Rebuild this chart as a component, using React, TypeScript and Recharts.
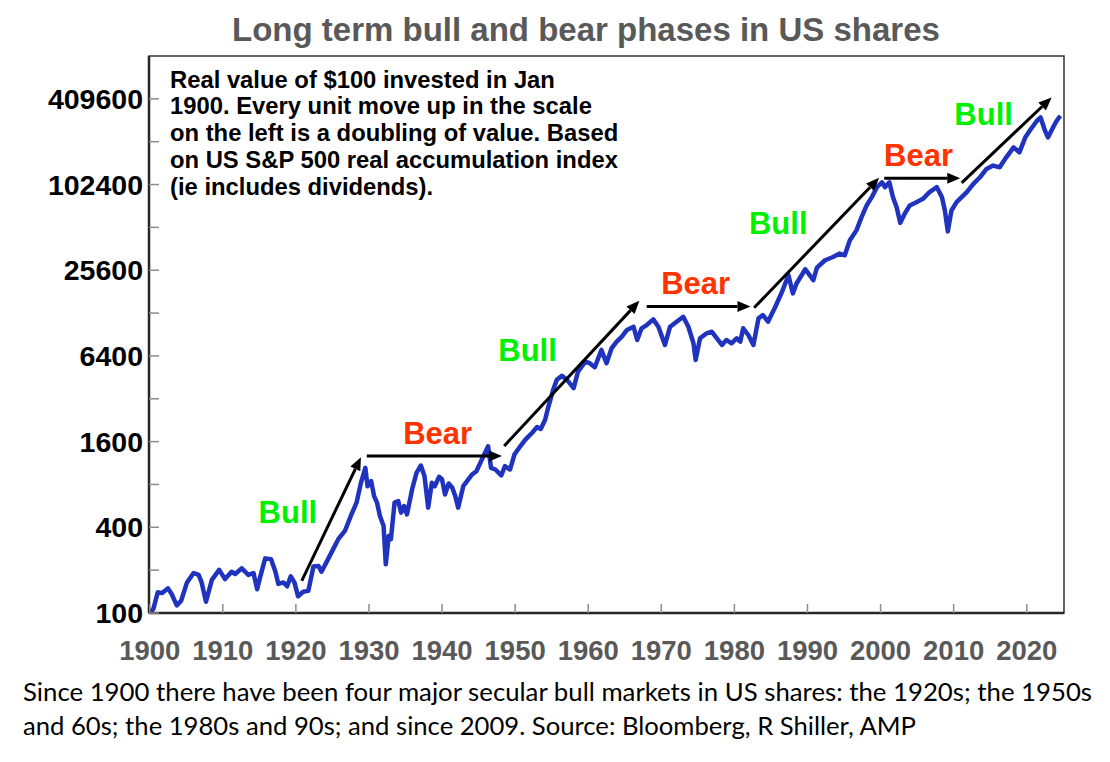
import React from "react";
import { LineChart, Line, XAxis, YAxis, ReferenceLine, ReferenceDot, ReferenceArea } from "recharts";

// Real value of $100 invested Jan 1900 (S&P 500 real accumulation index)
const years = [
  1900.0, 1900.5, 1901.1, 1901.7, 1902.5, 1903.0, 1903.7, 1904.3, 1905.1, 1906.0,
  1906.7, 1907.1, 1907.7, 1908.5, 1909.5, 1910.3, 1911.2, 1911.7, 1912.6, 1913.5,
  1914.2, 1914.7, 1915.1, 1915.8, 1916.6, 1917.2, 1917.6, 1918.3, 1918.8, 1919.3,
  1919.8, 1920.3, 1921.0, 1921.7, 1922.4, 1923.1, 1923.5, 1924.4, 1925.1, 1925.8,
  1926.7, 1927.6, 1928.3, 1928.9, 1929.5, 1929.8, 1930.3, 1930.7, 1931.1, 1931.5,
  1932.0, 1932.3, 1932.7, 1933.0, 1933.5, 1934.0, 1934.4, 1934.8, 1935.2, 1935.9,
  1936.5, 1937.1, 1937.6, 1938.1, 1938.6, 1939.0, 1939.6, 1940.0, 1940.4, 1940.9,
  1941.4, 1941.8, 1942.2, 1942.9, 1943.6, 1944.1, 1944.7, 1945.4, 1946.3, 1946.7,
  1947.3, 1948.1, 1948.6, 1949.3, 1949.9, 1950.7, 1951.4, 1952.3, 1953.0, 1953.5,
  1954.1, 1954.5, 1955.2, 1955.7, 1956.4, 1957.1, 1958.0, 1958.6, 1959.6, 1960.2,
  1960.9, 1961.8, 1962.5, 1963.2, 1963.9, 1964.6, 1965.3, 1966.2, 1966.7, 1967.3,
  1968.0, 1968.9, 1969.6, 1970.5, 1971.2, 1972.1, 1973.0, 1973.7, 1974.4, 1974.7,
  1975.3, 1976.2, 1976.9, 1977.6, 1978.3, 1978.9, 1979.6, 1980.3, 1980.8, 1981.2,
  1981.9, 1982.6, 1983.3, 1983.9, 1984.6, 1985.6, 1986.5, 1987.4, 1988.0, 1988.5,
  1989.7, 1990.8, 1991.3, 1992.4, 1993.5, 1994.4, 1995.1, 1995.8, 1996.7, 1997.4,
  1998.1, 1998.8, 1999.5, 2000.2, 2000.6, 2001.2, 2001.7, 2002.2, 2002.7, 2003.3,
  2004.0, 2004.9, 2005.8, 2006.7, 2007.7, 2008.4, 2008.8, 2009.2, 2009.7, 2010.4,
  2011.1, 2011.8, 2012.7, 2013.6, 2014.5, 2015.4, 2016.3, 2017.2, 2018.2, 2019.0,
  2019.8, 2020.4, 2021.4, 2021.9, 2022.5, 2022.9, 2023.6, 2024.1, 2024.6,
];

const values = [
  100, 107, 140, 138, 149, 136, 113, 122, 164, 191,
  185, 164, 120, 171, 201, 173, 195, 188, 206, 185,
  191, 147, 178, 242, 239, 195, 160, 164, 154, 181,
  164, 131, 141, 143, 212, 214, 195, 239, 281, 330,
  377, 493, 596, 822, 1047, 778, 844, 663, 596, 480,
  408, 220, 348, 330, 596, 611, 507, 564, 493, 738,
  966, 1087, 914, 550, 822, 778, 906, 867, 681, 813,
  758, 663, 550, 778, 867, 940, 991, 1183, 1483, 1047,
  1019, 925, 1075, 1019, 1298, 1483, 1653, 1840, 2028, 1963,
  2281, 2755, 3699, 4347, 4636, 4347, 3803, 4969, 5837, 5689,
  5333, 7052, 5689, 7246, 8063, 8738, 9736, 10264, 8283, 10004,
  10550, 11560, 10264, 7640, 10264, 11130, 12060, 10264, 7852, 6000,
  8515, 9228, 9470, 8515, 7640, 8283, 7852, 8515, 8063, 10004,
  8978, 7640, 11750, 12390, 11130, 14170, 17950, 23620, 17590, 20670,
  26010, 21790, 26660, 30090, 31720, 33500, 32610, 41540, 48780, 60480,
  73020, 83480, 98050, 106230, 98050, 106230, 83480, 71020, 55070, 63870,
  73020, 76980, 81310, 90460, 98050, 83480, 67340, 48000, 67340, 76980,
  83480, 90460, 103600, 115200, 131900, 139100, 135300, 159000, 186800, 172400,
  219500, 244600, 287300, 303000, 244600, 219500, 258000, 287300, 311500,
];

const yearTicks = [1900, 1910, 1920, 1930, 1940, 1950, 1960, 1970, 1980, 1990, 2000, 2010, 2020];
// every doubling gets a tick, every second one a label
const valueTicks = [100, 200, 400, 800, 1600, 3200, 6400, 12800, 25600, 51200, 102400, 204800, 409600];
const labelledTicks = [100, 400, 1600, 6400, 25600, 102400, 409600];

// phase arrows: [fromYear, fromValue, toYear, toValue]
const phaseArrows = [
  [1920.8, 168, 1928.9, 1242],
  [1929.7, 1270, 1948.2, 1270],
  [1948.5, 1490, 1967.0, 15600],
  [1968.0, 14250, 1982.2, 14250],
  [1982.7, 13940, 1999.8, 114100],
  [2000.5, 113500, 2010.9, 113500],
  [2011.1, 105200, 2023.4, 418300],
];

const phaseLabels = [
  { year: 1918.9, value: 515, text: "Bull" },
  { year: 1939.4, value: 1849, text: "Bear" },
  { year: 1951.7, value: 7052, text: "Bull" },
  { year: 1974.7, value: 20770, text: "Bear" },
  { year: 1986.0, value: 55220, text: "Bull" },
  { year: 2005.2, value: 164200, text: "Bear" },
  { year: 2014.1, value: 321600, text: "Bull" },
];

const noteLines = [
  "Real value of $100 invested in Jan",
  "1900. Every unit move up in the scale",
  "on the left is a doubling of value. Based",
  "on US S&P 500 real accumulation index",
  "(ie includes dividends).",
];

const footerLines = [
  "Since 1900 there have been four major secular bull markets in US shares: the 1920s; the 1950s",
  "and 60s; the 1980s and 90s; and since 2009. Source: Bloomberg, R Shiller, AMP",
];
const footerWidths = [1069, 893];

const data = years.map((year, i) => ({ year, value: values[i] }));

const X_DOMAIN = [1899.9, 2025.1];
const Y_DOMAIN = [100, 819200];
const ARIAL = "'Liberation Sans', Arial, sans-serif";

const XTick = (props: any) => {
  const { x, y, payload } = props;
  return (
    <g>
      <line x1={x} y1={y} x2={x} y2={y - 9} stroke="#8c8c8c" strokeWidth={1.5} />
      <text x={x} y={y + 47} textAnchor="middle" fill="#595959" fontSize={27.5} fontWeight="bold" fontFamily={ARIAL}>
        {payload.value}
      </text>
    </g>
  );
};

const YTick = (props: any) => {
  const { x, y, payload } = props;
  const showLabel = labelledTicks.includes(payload.value);
  return (
    <g>
      <line x1={x} y1={y} x2={x + 10} y2={y} stroke="#8c8c8c" strokeWidth={1.5} />
      {showLabel && (
        <text x={x - 6} y={y + 10} textAnchor="end" fill="#000" fontSize={28.5} fontWeight="bold" fontFamily={ARIAL}>
          {payload.value}
        </text>
      )}
    </g>
  );
};

const Arrow = (props: any) => {
  const { x1, y1, x2, y2 } = props;
  const dx = x2 - x1;
  const dy = y2 - y1;
  const len = Math.hypot(dx, dy) || 1;
  const ux = dx / len;
  const uy = dy / len;
  const head = 13;
  const half = 5.5;
  const bx = x2 - ux * head;
  const by = y2 - uy * head;
  const px = -uy * half;
  const py = ux * half;
  return (
    <g>
      <line x1={x1} y1={y1} x2={bx} y2={by} stroke="#000" strokeWidth={3} />
      <polygon points={`${x2},${y2} ${bx + px},${by + py} ${bx - px},${by - py}`} fill="#000" />
    </g>
  );
};

const phaseLabel = (text: string) => (props: any) => (
  <text
    x={props.cx}
    y={props.cy + 11}
    textAnchor="middle"
    fontSize={31}
    fontWeight="bold"
    fontFamily={ARIAL}
    fill={text === "Bull" ? "#00f000" : "#ff3300"}
  >
    {text}
  </text>
);

export default function App() {
  return (
    <div style={{ position: "absolute", left: 0, top: 0, width: 1110, height: 762, background: "#fff" }}>
      <LineChart width={1110} height={762} data={data} margin={{ top: 56, right: 46, bottom: 0, left: 0 }}>
        <XAxis
          dataKey="year"
          type="number"
          domain={X_DOMAIN}
          ticks={yearTicks}
          allowDataOverflow
          height={149}
          tickSize={0}
          tickMargin={0}
          tickLine={false}
          axisLine={{ stroke: "#262626", strokeWidth: 2.5 }}
          tick={<XTick />}
          interval={0}
        />
        <YAxis
          dataKey="value"
          scale="log"
          domain={Y_DOMAIN}
          ticks={valueTicks}
          allowDataOverflow
          width={149}
          tickSize={0}
          tickMargin={0}
          tickLine={false}
          axisLine={{ stroke: "#262626", strokeWidth: 2.5 }}
          tick={<YTick />}
          interval={0}
        />
        <ReferenceArea
          x1={X_DOMAIN[0]}
          x2={X_DOMAIN[1]}
          y1={Y_DOMAIN[0]}
          y2={Y_DOMAIN[1]}
          fill="none"
          stroke="#333"
          strokeWidth={1.5}
          ifOverflow="visible"
        />
        <Line
          dataKey="value"
          type="linear"
          stroke="#1f33be"
          strokeWidth={4.5}
          strokeLinejoin="round"
          dot={false}
          isAnimationActive={false}
        />
        {phaseArrows.map(([xa, ya, xb, yb], i) => (
          <ReferenceLine
            key={`arrow-${i}`}
            segment={[{ x: xa, y: ya }, { x: xb, y: yb }]}
            ifOverflow="visible"
            shape={<Arrow />}
          />
        ))}
        {phaseLabels.map((p, i) => (
          <ReferenceDot key={`lab-${i}`} x={p.year} y={p.value} r={0} ifOverflow="visible" shape={phaseLabel(p.text)} />
        ))}
      </LineChart>
      <svg width={1110} height={762} style={{ position: "absolute", left: 0, top: 0, pointerEvents: "none" }}>
        <text x={232} y={41} fontSize={33} fontWeight="bold" fill="#595959" fontFamily={ARIAL}>
          Long term bull and bear phases in US shares
        </text>
        {noteLines.map((t, i) => (
          <text key={i} x={170} y={87.5 + i * 26.8} fontSize={23.8} fontWeight="bold" fill="#000" fontFamily={ARIAL}>
            {t}
          </text>
        ))}
        {footerLines.map((t, i) => (
          <text
            key={i}
            x={23}
            y={701 + i * 34}
            fontSize={24.5}
            fill="#000"
            fontFamily="Lato, 'Open Sans', sans-serif"
            textLength={footerWidths[i]}
            lengthAdjust="spacingAndGlyphs"
          >
            {t}
          </text>
        ))}
      </svg>
    </div>
  );
}
